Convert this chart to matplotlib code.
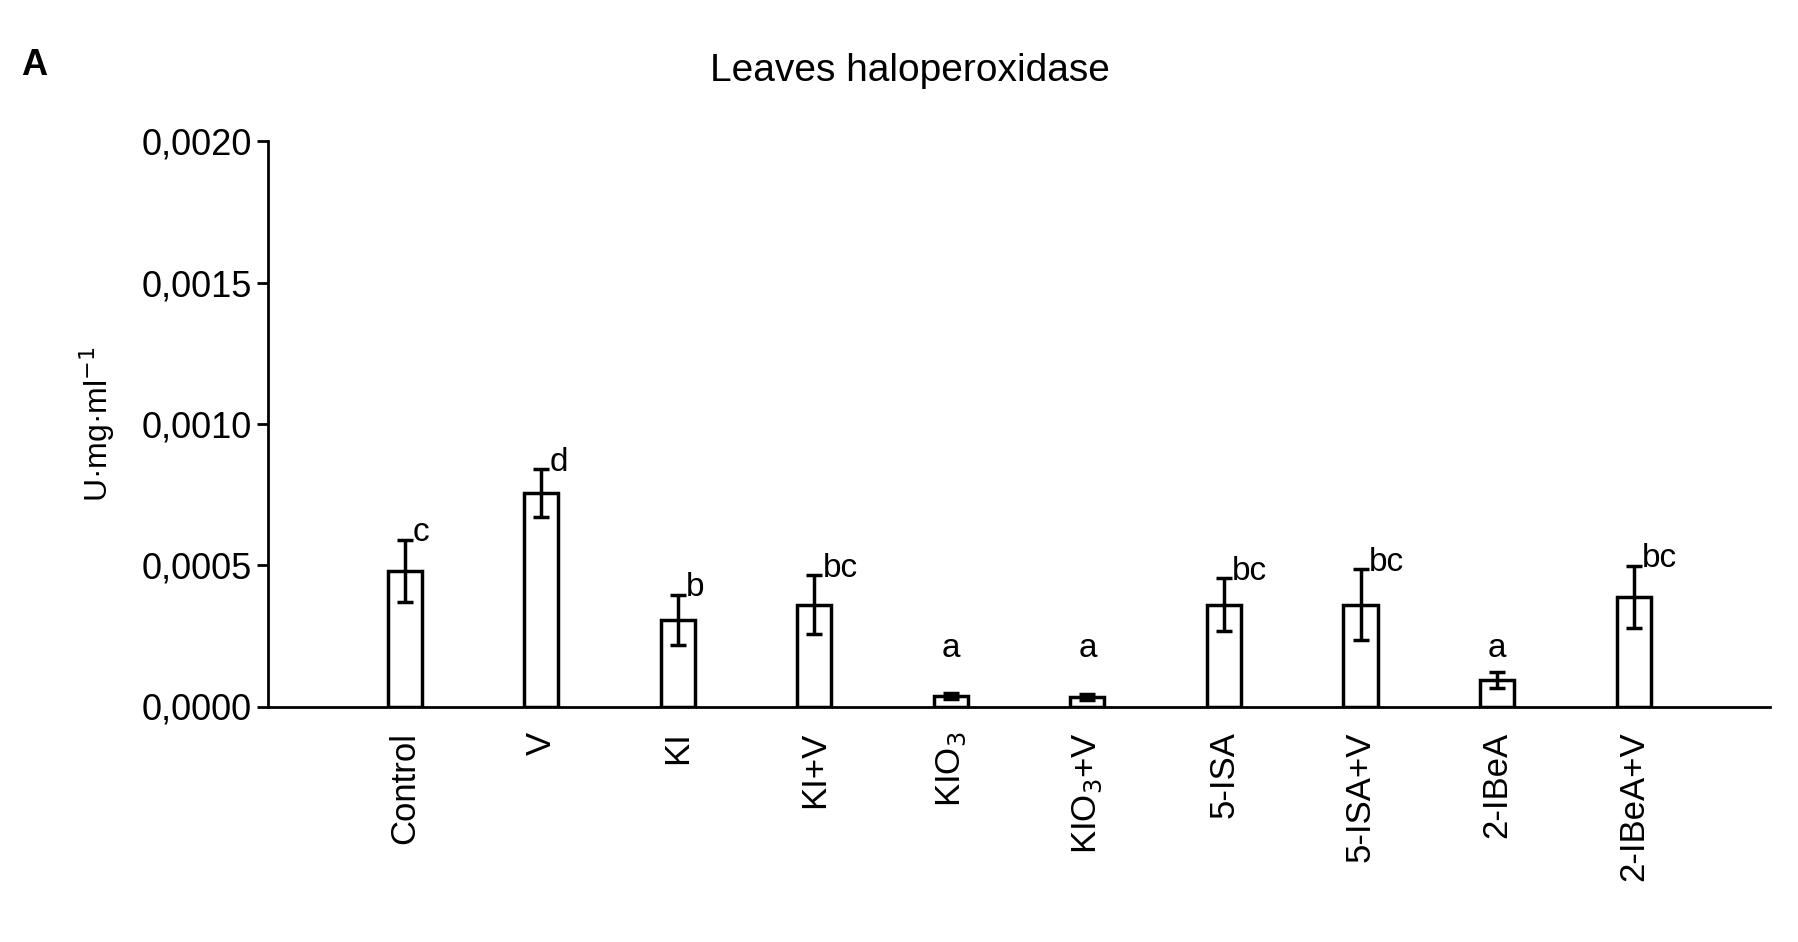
import matplotlib.pyplot as plt
import matplotlib.ticker as ticker

plt.rcParams['font.family'] = ['Liberation Sans', 'DejaVu Sans']

# Datos
categorias = ['Control', 'V', 'KI', 'KI+V', 'KIO$_3$', 'KIO$_3$+V', '5-ISA', '5-ISA+V', '2-IBeA', '2-IBeA+V']
valores = [0.00048, 0.000755, 0.000306, 0.00036, 0.000037, 0.000033, 0.00036, 0.00036, 0.000094, 0.000388]
errores = [0.00011, 0.000085, 0.00009, 0.000105, 0.00001, 0.00001, 0.000093, 0.000126, 0.000028, 0.00011]
letras = ['c', 'd', 'b', 'bc', 'a', 'a', 'bc', 'bc', 'a', 'bc']

fig = plt.figure(figsize=(17.99, 9.42), dpi=100)
ax = fig.add_axes([0.149, 0.25, 0.835, 0.60])

x = range(len(categorias))
ax.bar(x, valores, width=0.25, color='white', edgecolor='black', linewidth=2.5,
       yerr=errores, error_kw=dict(ecolor='black', elinewidth=2.5, capsize=6, capthick=2.5))

for i in x:
    tope = valores[i] + errores[i]
    if tope < 0.00015:
        ax.text(i, 0.00015, letras[i], ha='center', va='bottom', fontsize=24)
    else:
        ax.text(i + 0.06, tope - 0.00003, letras[i], ha='left', va='bottom', fontsize=24)

ax.set_xlim(-1, 10)
ax.set_ylim(0, 0.002)
ax.set_xticks(list(x))
ax.set_xticklabels(categorias, rotation=90, fontsize=25)
ax.tick_params(axis='x', length=0, pad=18)
ax.yaxis.set_major_locator(ticker.MultipleLocator(0.0005))
ax.yaxis.set_major_formatter(ticker.FuncFormatter(lambda v, pos: f'{v:.4f}'.replace('.', ',')))
ax.tick_params(axis='y', labelsize=26, width=2, length=8)
ax.spines['top'].set_visible(False)
ax.spines['right'].set_visible(False)
ax.spines['left'].set_linewidth(2)
ax.spines['bottom'].set_linewidth(2)
ax.set_ylabel('U·mg·ml$^{-1}$', fontsize=23, labelpad=18)

fig.text(0.506, 0.925, 'Leaves haloperoxidase', fontsize=28, ha='center', va='center')
fig.text(0.012, 0.92, 'A', fontsize=26, fontweight='bold')

fig.savefig('out.png')
